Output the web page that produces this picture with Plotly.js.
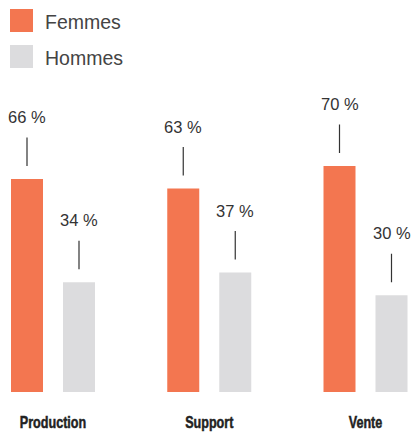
<!DOCTYPE html>
<html>
<head>
<meta charset="utf-8">
<script src="https://cdn.plot.ly/plotly-3.0.1.min.js"></script>
<style>html,body{margin:0;padding:0;background:#fff;}#chart{width:413px;height:434px;}</style>
</head>
<body>
<div id="chart"></div>
<script>
const categories = ["Production", "Support", "Vente"];
const seriesNames = ["Femmes", "Hommes"];
const femmes = [66, 63, 70];
const hommes = [34, 37, 30];
const labelSuffix = " %";

const colors = ["#F37650", "#DCDCDE"];
const barShift = [-26, 26];
const series = [femmes, hommes];

const traces = series.map((vals, i) => ({
  type: "bar",
  name: seriesNames[i],
  x: categories,
  y: vals,
  marker: {color: colors[i], line: {width: 0}},
  hoverinfo: "skip",
  showlegend: false
}));

const annotations = [];
const shapes = [];
series.forEach((vals, i) => {
  vals.forEach((v, j) => {
    annotations.push({
      x: categories[j], y: v, xref: "x", yref: "y",
      xshift: barShift[i],
      text: v + labelSuffix,
      showarrow: true, arrowhead: 0, arrowwidth: 1.2, arrowcolor: "#333",
      ax: 0, ay: -62, standoff: 13, borderpad: 11,
      font: {family: "Liberation Sans, Arial, sans-serif", size: 16.5, color: "#333"}
    });
  });
  // legend swatch
  shapes.push({
    type: "rect", xref: "paper", yref: "paper",
    xsizemode: "pixel", ysizemode: "pixel",
    xanchor: 0, yanchor: 1,
    x0: 10, x1: 33, y0: -9 - 36 * i, y1: -32 - 36 * i,
    fillcolor: colors[i], line: {width: 0}
  });
  annotations.push({
    x: 43 / 413, y: 1, xref: "paper", yref: "paper",
    xanchor: "left", yanchor: "middle", yshift: -22 - 36 * i,
    text: seriesNames[i], showarrow: false,
    font: {family: "Liberation Sans, Arial, sans-serif", size: 19.5, color: "#444"}
  });
});

const layout = {
  width: 413, height: 434,
  margin: {l: 0, r: 0, t: 0, b: 42, pad: 0},
  paper_bgcolor: "#fff", plot_bgcolor: "#fff",
  barmode: "group", bargap: 0.3344, bargroupgap: 0.3846,
  xaxis: {
    type: "category", range: [-0.3392, 2.304],
    showgrid: false, zeroline: false, showline: false,
    ticks: "", ticklabelstandoff: 18,
    tickfont: {family: "Liberation Sans, Arial, sans-serif", size: 17, color: "#222", weight: "bold"},
    fixedrange: true
  },
  yaxis: {
    range: [0, 121.4], visible: false, showgrid: false, zeroline: false, fixedrange: true
  },
  shapes: shapes,
  annotations: annotations,
  showlegend: false
};

Plotly.newPlot("chart", traces, layout, {displayModeBar: false, staticPlot: true}).then(gd => {
  // condensed, heavy look for category labels
  gd.querySelectorAll(".xtick text").forEach(t => {
    const w = t.getComputedTextLength();
    t.setAttribute("textLength", (w * 0.74).toFixed(1));
    t.setAttribute("lengthAdjust", "spacingAndGlyphs");
    t.style.stroke = "#222";
    t.style.strokeWidth = "0.5px";
  });
});
</script>
</body>
</html>
